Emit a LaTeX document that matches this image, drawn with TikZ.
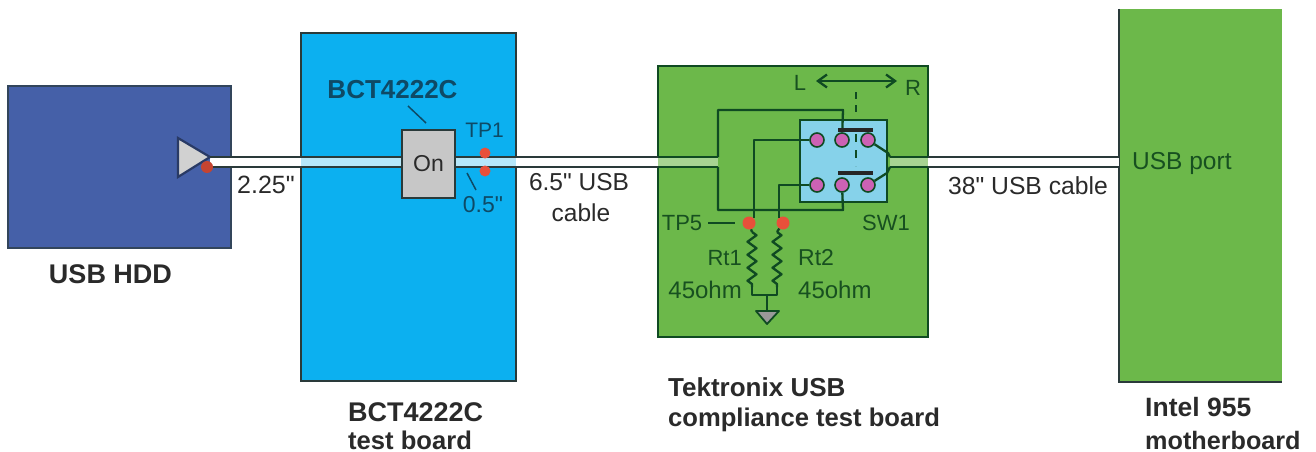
\documentclass[tikz,border=0pt]{standalone}
\usepackage{fontspec}
\setmainfont{Liberation Sans}
\usetikzlibrary{arrows.meta,decorations.pathmorphing}
\definecolor{hddblue}{HTML}{4560A8}
\definecolor{boardblue}{HTML}{0CB0F0}
\definecolor{boardgreen}{HTML}{6CB84A}
\definecolor{swblue}{HTML}{86D2EA}
\definecolor{pinpurple}{HTML}{CC62B4}
\definecolor{dotred}{HTML}{E8503A}
\definecolor{lineblack}{HTML}{2A3A3A}
\definecolor{wiregreen}{HTML}{0F4A22}
\definecolor{textblue}{HTML}{0E4A66}
\definecolor{textgreen}{HTML}{175020}
\definecolor{textdark}{HTML}{2A2A2A}
\newcommand{\fsz}[1]{\fontsize{#1}{#1}\selectfont}
\newcommand{\qmark}{\XeTeXglyph\XeTeXcharglyph"22\relax}
\tikzset{
  board/.style={draw=#1,line width=2.2pt,inner sep=0pt,outer sep=0pt},
  cable/.style={draw=lineblack,line width=2.4pt},
  wire/.style={draw=wiregreen,line width=2.3pt,line join=round},
  pin/.style={circle,fill=pinpurple,draw=wiregreen,line width=1.6pt,minimum size=14pt,inner sep=0pt},
  tp/.style={circle,fill=dotred,minimum size=13pt,inner sep=0pt},
  lab/.style={text=textdark,inner sep=0pt},
  labb/.style={text=textblue,inner sep=0pt},
  labg/.style={text=textgreen,inner sep=0pt},
  capt/.style={text=textdark,inner sep=0pt},
  res/.style={wire,decorate,decoration={zigzag,segment length=13pt,amplitude=4.5pt}}
}
\begin{document}
\begin{tikzpicture}[x=1pt,y=-1pt]
\useasboundingbox (0,0) rectangle (1316,452);
% boards
\node[board=lineblack!70!hddblue,fill=hddblue,minimum width=223pt,minimum height=162pt] (hdd) at (119.5,167) {};
\node[board=lineblack,fill=boardblue,minimum width=215pt,minimum height=348pt] (bct) at (408.5,207) {};
\node[board=wiregreen,fill=boardgreen,minimum width=270pt,minimum height=271pt] (tek) at (793,201.5) {};
\fill[boardgreen] (1119,9) rectangle (1282,382);
\coordinate (mbtl) at (1119,9);
\coordinate (mbbl) at (1119,382);
\coordinate (mbbr) at (1282,382);
\draw[draw=lineblack,line width=2pt] (mbtl) -- (mbbl) -- (mbbr);
\coordinate (mbu) at (1119,157);
\coordinate (mbl) at (1119,167);
% switch
\node[board=wiregreen,fill=swblue,minimum width=87pt,minimum height=82pt] (sw) at (843.5,161) {};
% cable fills
\fill[white] (210,157) rectangle (301,167);
\fill[boardblue!30!white] (301,157) rectangle (402,167);
\fill[boardblue!30!white] (455,157) rectangle (516,167);
\fill[white] (516,157) rectangle (658,167);
\fill[boardgreen!60!white] (658,157) rectangle (718,167);
\fill[boardgreen!60!white] (890,157) rectangle (928,167);
\fill[white] (928,157) rectangle (1119,167);
% driver
\coordinate (tipA) at (210,157);
\draw[fill=black!18,draw=hddblue!60!black,line width=2.2pt] (178,138) -- (tipA) -- (178,177) -- cycle;
\node[tp,fill=dotred!85!black,minimum size=12pt] (outb) at (207,167) {};
% on switch
\node[board=lineblack,fill=black!22,minimum width=53pt,minimum height=68pt,font=\fsz{23},text=textdark] (on) at (428.5,164) {On};
% coordinates of wires
\coordinate (c1a) at (718,157);
\coordinate (c1b) at (718,167);
\coordinate (c2a) at (890,157);
\coordinate (c2b) at (890,167);
% cables
\draw[cable] (tipA) -- (tipA -| on.west);
\draw[cable] (outb) -- (on.west |- outb);
\draw[cable] (on.east |- tipA) -- (c1a);
\draw[cable] (on.east |- outb) -- (c1b);
\draw[cable] (c2a) -- (mbu);
\draw[cable] (c2b) -- (mbl);
\draw[wire] (c1a) -- (tek.west |- c1a) (c1b) -- (tek.west |- c1b);
\draw[wire] (c2a) -- (tek.east |- c2a) (c2b) -- (tek.east |- c2b);
% TP1 dots
\node[tp,minimum size=11pt] (tp1a) at (485,153) {};
\node[tp,minimum size=11pt] (tp1b) at (485,171) {};
% pins
\node[pin] (p1) at (817,140) {};
\node[pin] (p2) at (842,140) {};
\node[pin] (p3) at (868,140) {};
\node[pin] (p4) at (817,185) {};
\node[pin] (p5) at (842,185) {};
\node[pin] (p6) at (868,185) {};
% tp5 dots
\node[tp] (tpa) at (749,223) {};
\node[tp] (tpb) at (783,223) {};
% internal wires
\draw[wire] (c1a) -- (718,110) -- (843,110) -- (p2);
\draw[wire] (c1b) -- (718,210) -- (843,210) -- (p5);
\draw[wire] (p1) -- (754,140) -- (754,218);
\draw[wire] (p4) -- (779,185) -- (779,218);
\draw[wire] (p3) -- (888,153) -- (c2a);
\draw[wire] (p6) -- (887,173) -- (c2b);
\draw[draw=black!85,line width=4pt] (838,130) -- (873,130);
\draw[draw=black!85,line width=4pt] (838,173) -- (873,173);
\draw[wire,dash pattern=on 7pt off 6pt] (856,92) -- (856,114);
\draw[wire,dash pattern=on 8pt off 8pt] (856,134) -- (856,166);
% L/R arrow
\coordinate (arL) at (816,81);
\coordinate (arR) at (897,81);
\draw[wire,{Straight Barb[length=9pt,width=13pt]}-{Straight Barb[length=9pt,width=13pt]}] (arL) -- (arR);
% resistors
\coordinate (ra) at (752,232);
\coordinate (rb) at (752,287);
\coordinate (rc) at (777,232);
\coordinate (rd) at (777,287);
\coordinate (gj) at (767,295);
\coordinate (gt) at (767,310);
\draw[wire] (tpa) -- (ra);
\draw[wire] (tpb) -- (rc);
\draw[res] (ra) -- (rb);
\draw[res] (rc) -- (rd);
\draw[wire] (rb) -- (752,295) -- (777,295) -- (rd);
\draw[wire] (gj) -- (gt);
\draw[draw=wiregreen,line width=1.8pt,fill=black!40,line join=round] (756,311) -- (779,311) -- (767,324) -- cycle;
% labels with leaders
\node[labb,font=\fsz{26}\bfseries] (lbct) at (392.5,90) {BCT4222C};
\coordinate (la1) at (408,106);
\coordinate (la2) at (426,123);
\draw[draw=textblue,line width=1.5pt] (la1) -- (la2);
\node[labb,font=\fsz{21}] (ltp1) at (484.5,130) {TP1};
\node[labb,font=\fsz{23}] (lhalf) at (483,205) {0.5\qmark};
\coordinate (lb1) at (467,173);
\coordinate (lb2) at (476,190);
\draw[draw=textblue,line width=1.5pt] (lb1) -- (lb2);
\node[lab,font=\fsz{25}] (l225) at (266,185) {2.25\qmark};
\node[lab,font=\fsz{24.5}] (l65) at (579,182) {6.5\qmark{} USB};
\node[lab,font=\fsz{24.5}] (lcable) at (581,213) {cable};
\node[lab,font=\fsz{24.7}] (l38) at (1028,186) {38\qmark{} USB cable};
\node[labg,anchor=west,font=\fsz{24.5}] (lport) at (1132,163) {USB port};
\node[labg,font=\fsz{22}] (lL) at (800,83) {L};
\node[labg,font=\fsz{22}] (lR) at (913,88) {R};
\node[labg,font=\fsz{22}] (lsw) at (886,223) {SW1};
\node[labg,font=\fsz{22}] (ltp5) at (682,223) {TP5};
\coordinate (t5a) at (708,223);
\coordinate (t5b) at (735,223);
\draw[wire,line width=1.6pt] (t5a) -- (t5b);
\node[labg,anchor=east,font=\fsz{22}] (lrt1) at (742,258) {Rt1};
\node[labg,anchor=east,font=\fsz{24}] (lo1) at (742,290) {45ohm};
\node[labg,anchor=west,font=\fsz{23}] (lrt2) at (798,258) {Rt2};
\node[labg,anchor=west,font=\fsz{24}] (lo2) at (798,290) {45ohm};
\node[capt,font=\fsz{27}\bfseries] (chdd) at (110.5,274) {USB HDD};
\node[capt,anchor=west,font=\fsz{27}\bfseries] (cbct) at (348,412) {BCT4222C};
\node[capt,anchor=west,font=\fsz{25.6}\bfseries] (cbct2) at (348,440) {test board};
\node[capt,anchor=west,font=\fsz{26}\bfseries] (ctek) at (668,387) {Tektronix USB};
\node[capt,anchor=west,font=\fsz{25.6}\bfseries] (ctek2) at (668,420) {compliance test board};
\node[capt,anchor=west,font=\fsz{26.5}\bfseries] (cint) at (1145,407) {Intel 955};
\node[capt,anchor=west,font=\fsz{25.2}\bfseries] (cint2) at (1145,440) {motherboard};
\end{tikzpicture}
\end{document}
